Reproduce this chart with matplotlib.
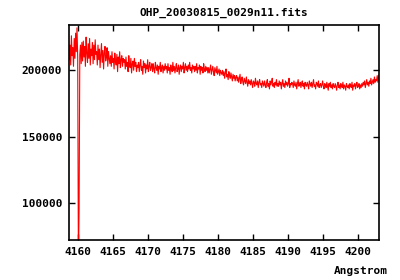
import matplotlib
matplotlib.use("Agg")
import matplotlib.pyplot as plt
import numpy as np

title = "OHP_20030815_0029n11.fits"
xlabel = "Angstrom"
wave_start = 4158.6
wave_step = 0.1
# flux in thousands (one row = 2 Angstrom)
flux_k = [
    222, 208, 219, 204, 226, 211, 217, 203, 224, 209, 228, 214, 232, 210, 55, 96, 212, 219, 205, 221,
    207, 222, 210, 218, 203, 225, 213, 206, 220, 209, 224, 204, 216, 211, 221, 205, 219, 208, 223, 212,
    214, 204, 219, 208, 216, 202, 212, 220, 206, 215, 201, 213, 218, 207, 210, 217, 203, 214, 209, 205,
    211, 203, 214, 206, 209, 201, 213, 207, 204, 212, 199, 210, 205, 214, 202, 208, 211, 203, 209, 206,
    208, 201, 210, 203, 206, 199, 211, 204, 202, 209, 198, 205, 207, 200, 209, 203, 206, 199, 204, 202,
    206, 199, 204, 208, 200, 203, 197, 207, 202, 205, 198, 204, 201, 208, 199, 203, 206, 200, 202, 205,
    199, 205, 201, 198, 206, 202, 200, 204, 197, 203, 201, 206, 199, 202, 204, 198, 203, 200, 205, 201,
    203, 198, 205, 200, 202, 197, 204, 201, 199, 206, 200, 203, 198, 202, 205, 199, 201, 204, 197, 202,
    204, 199, 203, 201, 206, 198, 202, 205, 200, 203, 199, 204, 201, 206, 200, 202, 198, 204, 201, 203,
    199, 203, 200, 205, 198, 202, 201, 204, 197, 203, 200, 202, 198, 205, 201, 199, 203, 200, 202, 198,
    202, 198, 201, 204, 197, 200, 203, 199, 196, 202, 200, 198, 203, 197, 199, 201, 196, 200, 198, 197,
    200, 196, 199, 194, 198, 201, 195, 197, 193, 199, 196, 194, 198, 195, 192, 197, 194, 196, 192, 195,
    196, 192, 195, 191, 194, 197, 190, 193, 195, 191, 189, 194, 192, 190, 195, 191, 188, 193, 190, 192,
    189, 193, 190, 187, 192, 191, 188, 194, 190, 189, 192, 187, 191, 193, 189, 190, 187, 192, 190, 188,
    192, 189, 187, 191, 193, 188, 190, 186, 192, 189, 191, 194, 188, 190, 187, 191, 189, 193, 188, 190,
    188, 192, 189, 191, 186, 190, 193, 188, 190, 187, 192, 189, 191, 188, 190, 194, 187, 190, 189, 191,
    190, 187, 192, 189, 188, 191, 186, 190, 193, 188, 189, 191, 187, 190, 192, 188, 190, 186, 191, 189,
    188, 191, 189, 186, 192, 190, 188, 191, 187, 190, 193, 188, 189, 186, 191, 190, 188, 192, 187, 189,
    190, 187, 189, 192, 188, 186, 190, 189, 187, 191, 188, 185, 190, 188, 191, 187, 189, 186, 190, 188,
    187, 190, 188, 185, 189, 191, 187, 189, 186, 190, 188, 187, 191, 186, 189, 188, 185, 190, 188, 187,
    189, 186, 190, 188, 187, 191, 185, 189, 188, 190, 186, 189, 191, 187, 188, 190, 186, 189, 187, 190,
    188, 191, 189, 192, 187, 190, 193, 189, 191, 188, 192, 190, 194, 189, 191, 193, 190, 195, 191, 193,
    192, 196, 191, 195, 197, 192, 194,
]
xticks = [4160, 4165, 4170, 4175, 4180, 4185, 4190, 4195, 4200]
yticks = [100000, 150000, 200000]

wave = wave_start + wave_step * np.arange(len(flux_k))
flux = np.array(flux_k, dtype=float) * 1000

fig = plt.figure(figsize=(4, 2.8), dpi=100)
ax = fig.add_axes([69.3/400, 40/280, 310/400, 214.7/280])
ax.plot(wave, flux, color="#ff0000", lw=0.8)
ax.set_xlim(4158.7, 4203.0)
ax.set_ylim(72200, 233900)
ax.set_xticks(xticks)
ax.set_yticks(yticks)
ax.set_xticklabels([str(t) for t in xticks])
ax.set_yticklabels([str(t) for t in yticks])
ax.tick_params(direction="in", length=4, width=1, top=True, right=True,
               labelsize=8, pad=5)
for lab in ax.get_xticklabels() + ax.get_yticklabels():
    lab.set_family("DejaVu Sans Mono")
    lab.set_fontweight("bold")
for s in ax.spines.values():
    s.set_linewidth(1.2)
fig.text(224/400, 1 - 13/280, title, ha="center", va="center",
         family="DejaVu Sans Mono", fontweight="bold", fontsize=8)
fig.text(388/400, 1 - 271/280, xlabel, ha="right", va="center",
         family="DejaVu Sans Mono", fontweight="bold", fontsize=8)
fig.savefig("out.png", dpi=100)
